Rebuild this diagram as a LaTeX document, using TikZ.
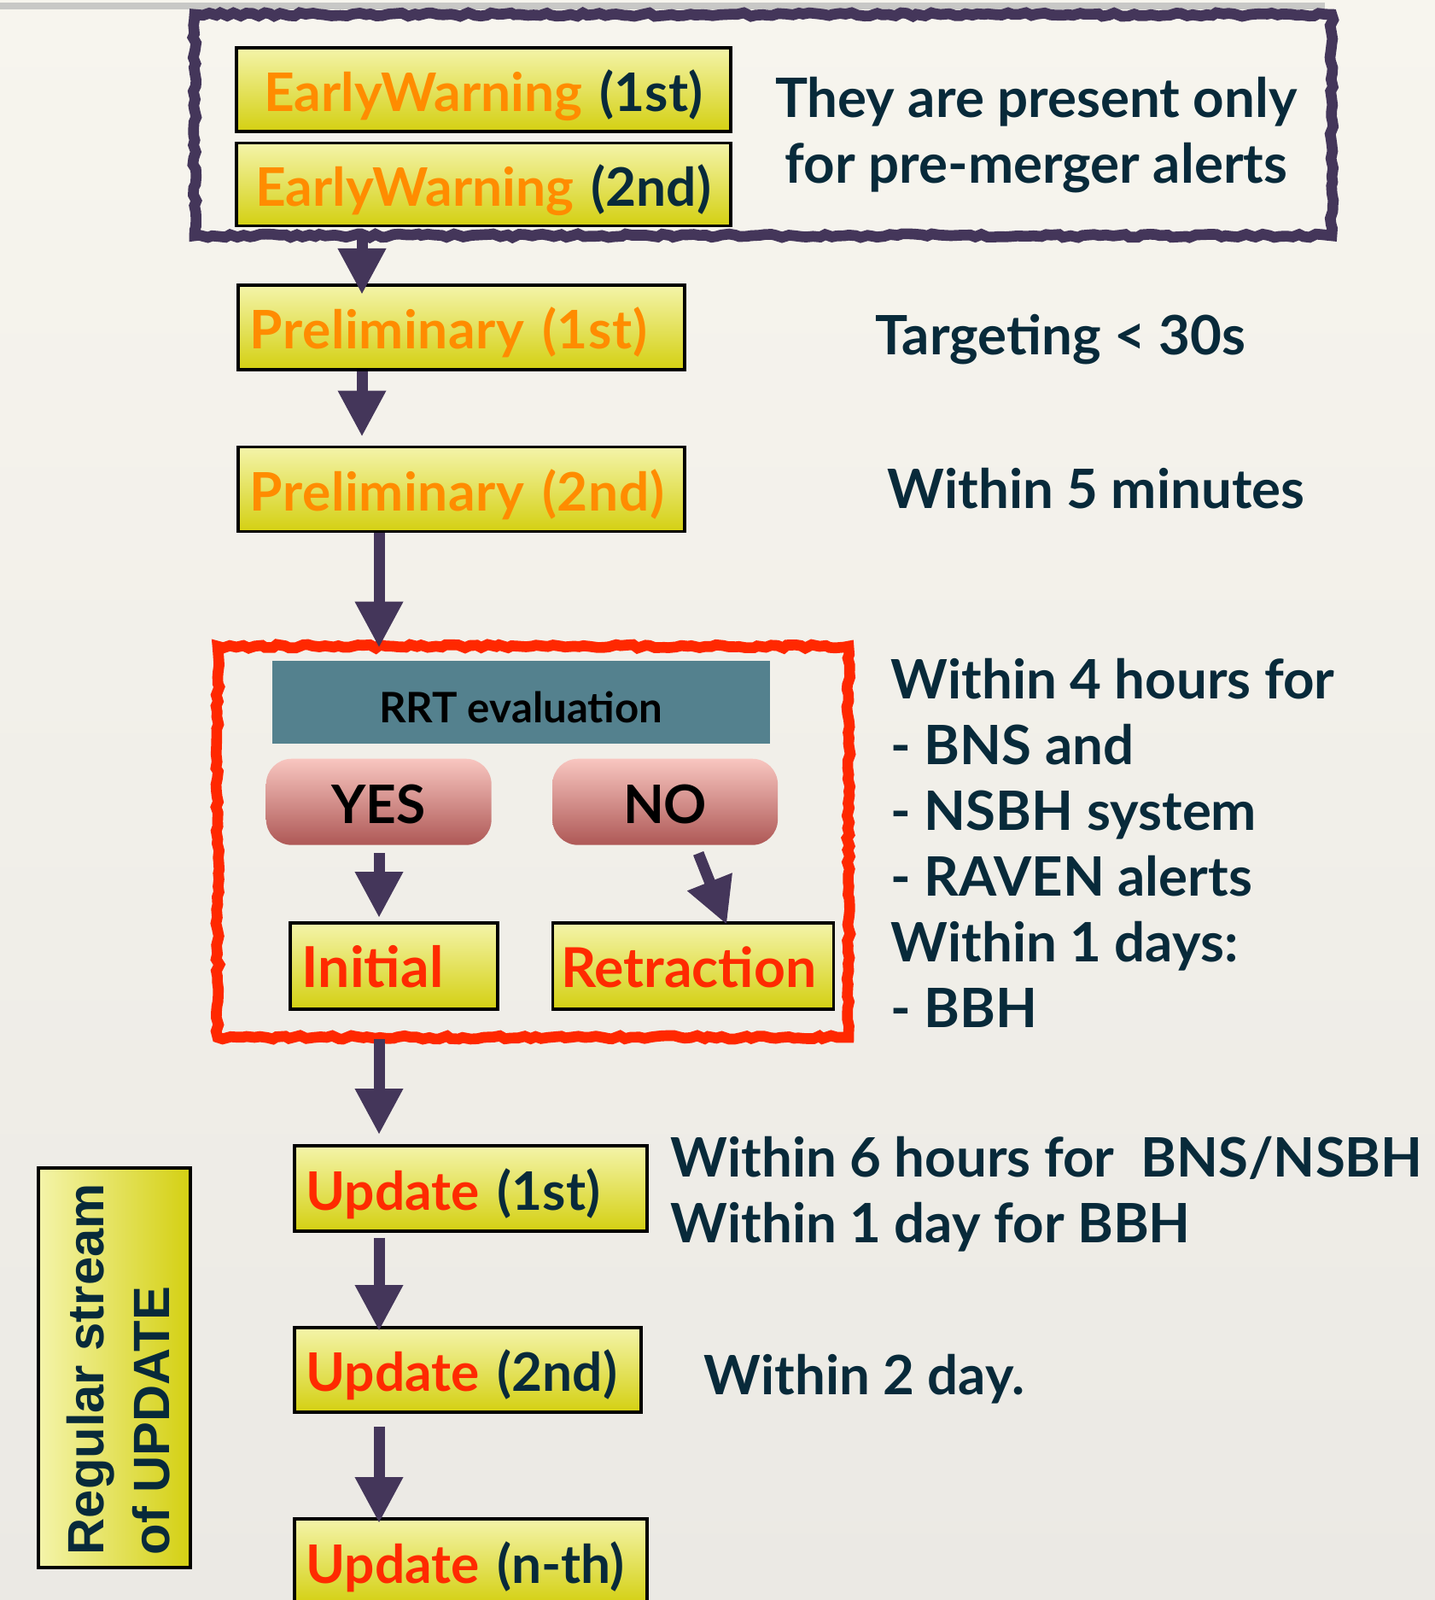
\documentclass[tikz,border=0pt]{standalone}
\usepackage{fontspec}
\setmainfont{Lato}
\newfontfamily\streamfont{Liberation Sans}
\usepackage{tikz}
\usetikzlibrary{positioning,calc,arrows.meta,decorations.pathmorphing}

\definecolor{paperTop}{RGB}{247,245,238}
\definecolor{paperBottom}{RGB}{235,233,228}
\definecolor{boxTop}{RGB}{244,244,170}
\definecolor{boxBottom}{RGB}{212,208,18}
\definecolor{navyText}{RGB}{8,42,58}
\definecolor{warnOrange}{RGB}{255,140,0}
\definecolor{alertRed}{RGB}{255,42,0}
\definecolor{flowPurple}{RGB}{68,54,90}
\definecolor{frameRed}{RGB}{255,40,0}
\definecolor{tealBox}{RGB}{84,129,142}
\definecolor{pinkTop}{RGB}{248,198,192}
\definecolor{pinkBottom}{RGB}{174,88,86}
\definecolor{ruleGray}{RGB}{200,200,198}

\newcommand{\alertfont}{\fontsize{17.7}{21}\selectfont\bfseries}
\newcommand{\notefont}{\fontsize{18.1}{21.9}\selectfont\bfseries}

\begin{document}
\begin{tikzpicture}[
    node distance=1cm,
    alert/.style={rectangle, draw=black, line width=1pt, top color=boxTop, bottom color=boxBottom, minimum height=0.99cm, inner xsep=0.14cm, inner ysep=0pt, text height=0.51cm, text depth=0pt, align=left, text=navyText, font=\alertfont},
    decision/.style={rectangle, rounded corners=0.3cm, top color=pinkTop, bottom color=pinkBottom, minimum width=2.64cm, minimum height=1.01cm, text height=0.51cm, text depth=0pt, text=black, font=\alertfont},
    evalbox/.style={rectangle, fill=tealBox, minimum width=5.83cm, minimum height=0.97cm, text height=0.49cm, text depth=0pt, text=black, font=\fontsize{14}{17}\selectfont\bfseries},
    streambox/.style={rectangle, draw=black, line width=1pt, left color=boxTop, right color=boxBottom, minimum width=1.78cm, minimum height=4.68cm},
    streamtext/.style={inner sep=0pt, align=left, text=navyText, font=\fontsize{17}{21.9}\selectfont\streamfont\bfseries},
    roughframe/.style={rectangle, line width=3.6pt, decorate, decoration={random steps, segment length=2pt, amplitude=0.6pt}},
    note/.style={inner sep=0pt, align=left, text=navyText, font=\notefont},
    flow/.style={draw=flowPurple, line width=0.13cm, -{Triangle[width=0.53cm, length=0.54cm]}}
]
    \clip (0,0) rectangle (16.81,-18.74);
    \shade[top color=paperTop, bottom color=paperBottom] (0,0) rectangle (16.81,-18.74);
    \draw[ruleGray, line width=2pt] (0,-0.07) -- (15.52,-0.07);

    \node[roughframe, draw=flowPurple, minimum width=13.32cm, minimum height=2.59cm] (ewframe) at (8.94,-1.465) {};
    \node[roughframe, draw=frameRed, minimum width=7.39cm, minimum height=4.58cm] (rrtframe) at (6.245,-9.86) {};

    \node[alert, align=center, text width=5.51cm, minimum height=0.98cm, anchor=north west] (ew1) at (2.75,-0.54) {{\color{warnOrange}EarlyWarning} (1st)};
    \node[alert, align=center, text width=5.51cm, minimum height=0.97cm, below=0.1cm of ew1] (ew2) {{\color{warnOrange}EarlyWarning} (2nd)};

    \node[alert, text=warnOrange, text width=4.95cm, anchor=north west] (prelim1) at (2.77,-3.32) {\mbox{\addfontfeatures{LetterSpace=1}Preliminary (1st)}};
    \node[alert, text=warnOrange, text width=4.95cm, below=0.87cm of prelim1] (prelim2) {\mbox{\addfontfeatures{LetterSpace=1}Preliminary (2nd)}};

    \node[evalbox, anchor=north west] (rrt) at (3.18,-7.73) {RRT evaluation};
    \node[decision, anchor=north west] (yes) at (3.11,-8.88) {YES};
    \node[decision, right=0.7cm of yes] (no) {NO};
    \node[alert, text=alertRed, text width=2.15cm, minimum height=1.01cm, anchor=north west, font=\fontsize{18.8}{21}\selectfont\bfseries] (initial) at (3.38,-10.79) {Initial};
    \node[alert, text=alertRed, text width=3.01cm, minimum height=1.01cm, right=0.61cm of initial, font=\fontsize{18.3}{21}\selectfont\bfseries] (retraction) {\hspace*{-0.04cm}Retraction};

    \node[alert, text width=3.85cm, minimum height=1cm, anchor=north west] (update1) at (3.43,-13.40) {{\color{alertRed}Update} (1st)};
    \node[alert, text width=3.78cm, anchor=north west] (update2) at (3.43,-15.53) {{\color{alertRed}Update} (2nd)};
    \node[alert, text width=3.85cm, minimum height=1cm, anchor=north west] (updaten) at (3.43,-17.77) {{\color{alertRed}Update} (n-th)};

    \node[streambox] (stream) at (1.34,-16.02) {};
    \node[streamtext, rotate=90, anchor=south west] (streamlabel) at (2.00,-18.22) {Regular stream\\of UPDATE};

    \node[note, align=center] (notepre) at (12.14,-1.585) {They are present only\\for pre-merger alerts};
    \node[note, anchor=west] (notetarget) at (10.25,-3.98) {Targeting < 30s};
    \node[note, anchor=west] (notefive) at (10.39,-5.72) {Within 5 minutes};
    \node[note, anchor=west] (noterrt) at (10.43,-9.87) {Within 4 hours for\\- BNS and\\- NSBH system\\- RAVEN alerts\\Within 1 days:\\- BBH};
    \node[note, anchor=west] (noteupd) at (7.85,-13.99) {Within 6 hours for~ BNS/NSBH\\Within 1 day for BBH};
    \node[note, anchor=west] (notetwo) at (8.24,-16.15) {Within 2 day.};

    \coordinate (spineA) at (4.24,0);
    \coordinate (spineB) at (4.44,0);

    \draw[flow, shorten <=0.04cm, shorten >=-0.13cm] (ew2.south -| spineA) -- (prelim1.north -| spineA);
    \draw[flow, shorten >=0.1cm] (prelim1.south -| spineA) -- (prelim2.north -| spineA);
    \draw[flow, shorten >=-0.08cm] (prelim2.south -| spineB) -- (rrtframe.north -| spineB);
    \draw[flow, shorten <=0.09cm, shorten >=0.04cm] (yes.south -| spineB) -- (initial.north -| spineB);
    \draw[flow] ($(no.south)+(0.39,-0.09)$) -- ($(retraction.north)+(0.395,-0.04)$);
    \draw[flow, shorten <=-0.04cm, shorten >=0.11cm] (rrtframe.south -| spineB) -- (update1.north -| spineB);
    \draw[flow, shorten <=0.06cm, shorten >=-0.06cm] (update1.south -| spineB) -- (update2.north -| spineB);
    \draw[flow, shorten <=0.15cm, shorten >=-0.07cm] (update2.south -| spineB) -- (updaten.north -| spineB);
\end{tikzpicture}
\end{document}
